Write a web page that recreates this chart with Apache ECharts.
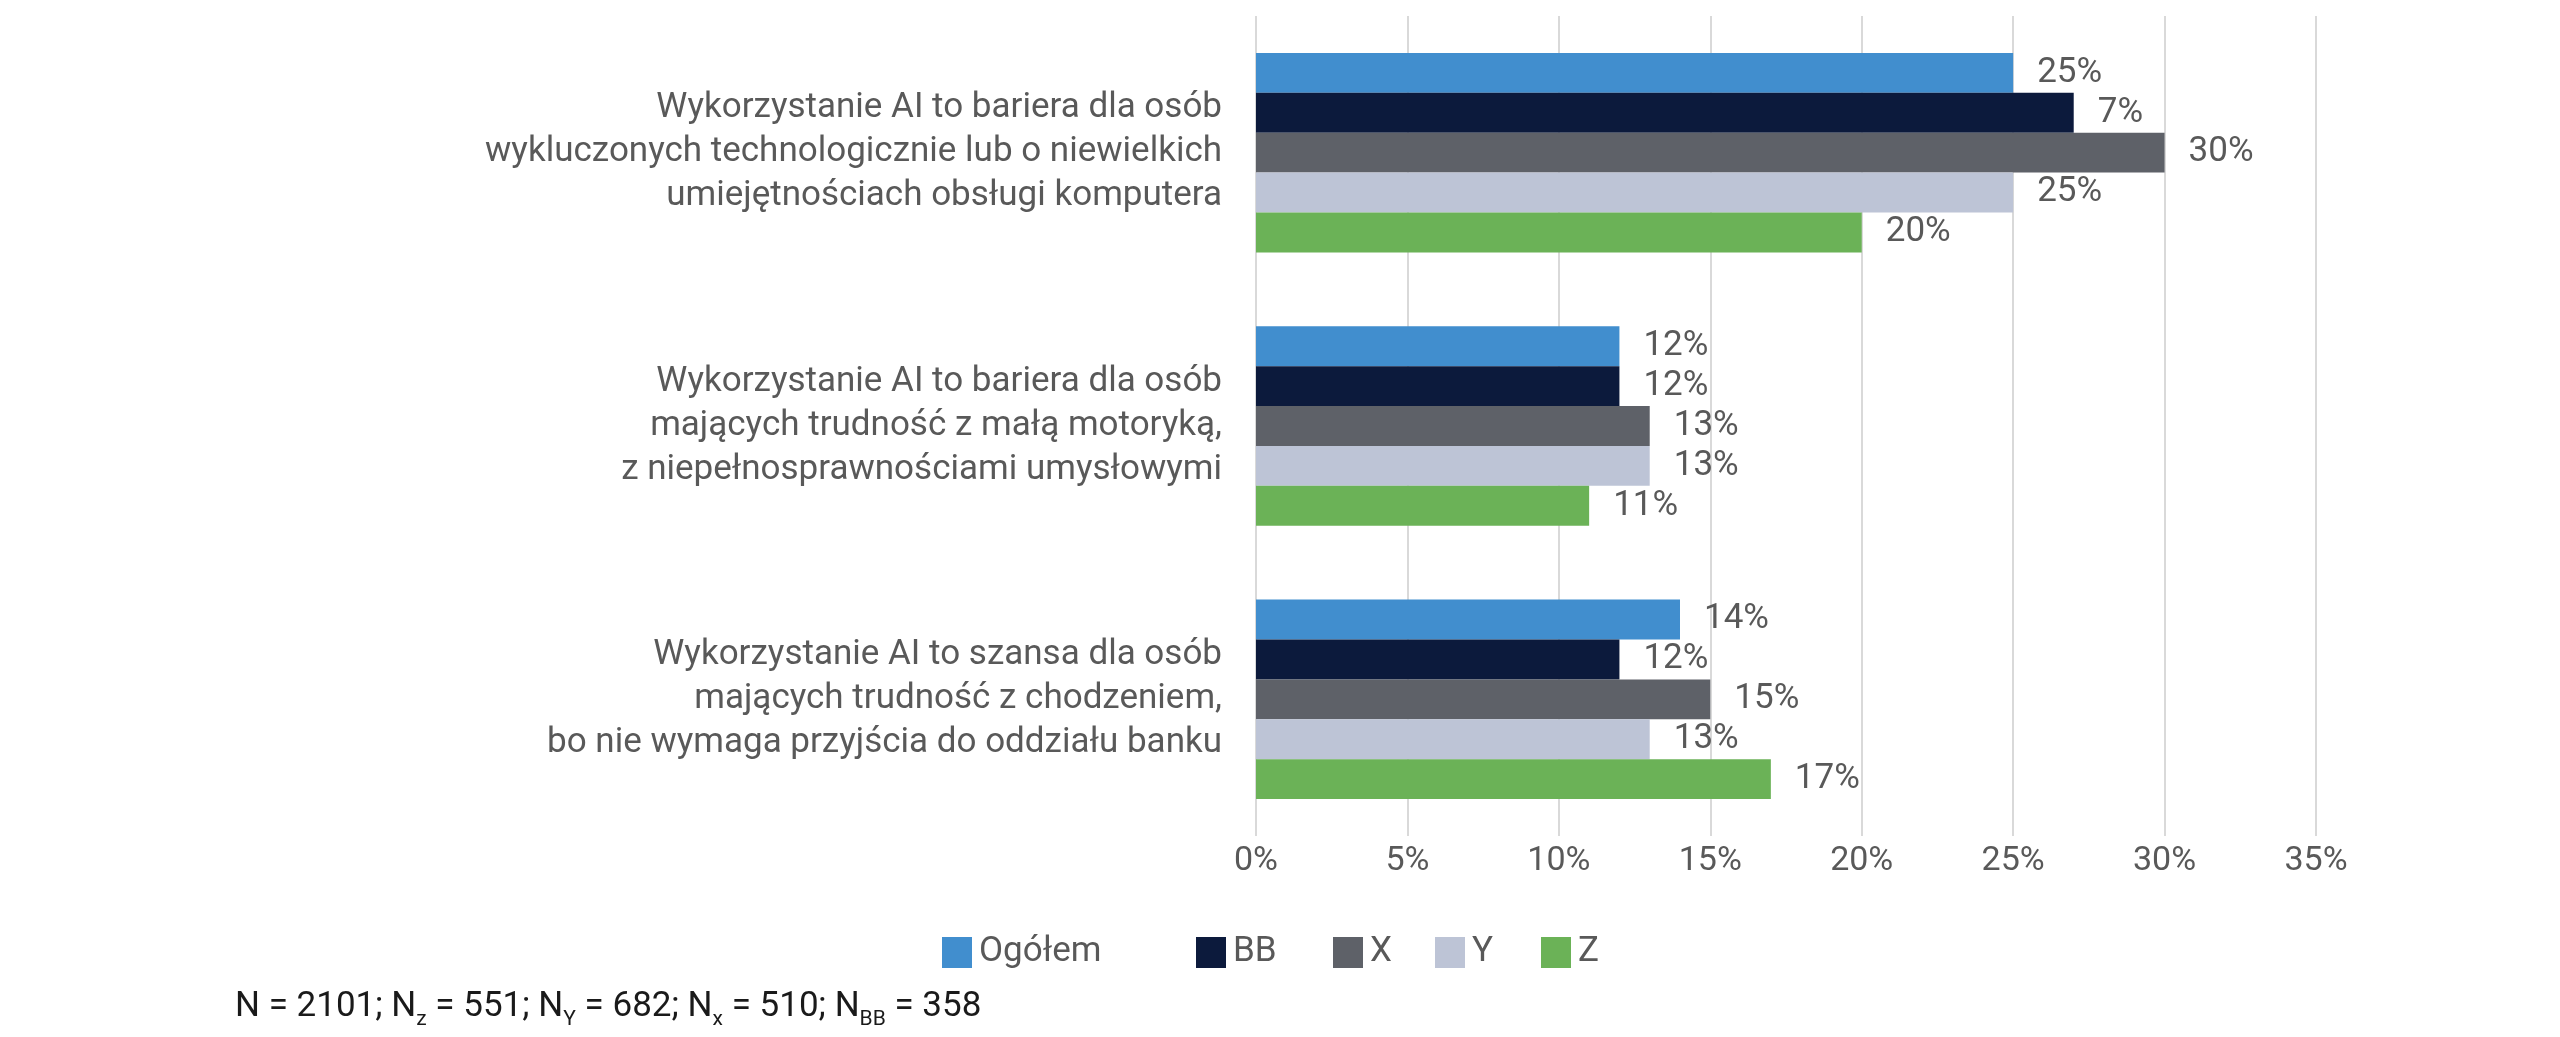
<!DOCTYPE html>
<html>
<head>
<meta charset="utf-8">
<script src="https://cdn.jsdelivr.net/npm/echarts@6/dist/echarts.min.js"></script>
<style>
html,body{margin:0;padding:0;background:#fff;}
#c{width:2560px;height:1037px;}
</style>
</head>
<body>
<div id="c"></div>
<script>
const categories = [
  'Wykorzystanie AI to bariera dla osób\nwykluczonych technologicznie lub o niewielkich\numiejętnościach obsługi komputera',
  'Wykorzystanie AI to bariera dla osób\nmających trudność z małą motoryką,\nz niepełnosprawnościami umysłowymi',
  'Wykorzystanie AI to szansa dla osób\nmających trudność z chodzeniem,\nbo nie wymaga przyjścia do oddziału banku'
];
const seriesNames = ['Ogółem', 'BB', 'X', 'Y', 'Z'];
const ogolem = [25, 12, 14];
const bb = [27, 12, 12];
const bbLabels = ['7%', '12%', '12%'];
const x = [30, 13, 15];
const y = [25, 13, 13];
const z = [20, 11, 17];
const xTicks = [0, 5, 10, 15, 20, 25, 30, 35];
const colors = ['#418ECE', '#0C1A3C', '#5E6168', '#BDC4D6', '#6BB257'];

const textColor = '#595959';
const font = 'Roboto';
const legendLefts = [937, 1191, 1328, 1430, 1536];

function mkSeries(name, data, color, labels) {
  return {
    name: name,
    type: 'bar',
    data: data,
    itemStyle: {color: color},
    barGap: '0%',
    barCategoryGap: '27%',
    label: {
      show: true,
      position: 'right',
      distance: 24,
      color: textColor,
      fontFamily: font,
      fontSize: 35,
      formatter: labels ? (p) => labels[p.dataIndex] : (p) => p.value + '%'
    }
  };
}

const chart = echarts.init(document.getElementById('c'));
chart.setOption({
  animation: false,
  backgroundColor: '#fff',
  grid: {left: 1256, right: 244, top: 16, bottom: 201, containLabel: false},
  xAxis: {
    type: 'value',
    min: 0,
    max: 35,
    interval: 5,
    axisLine: {show: false},
    axisTick: {show: false},
    splitLine: {lineStyle: {color: '#D9D9D9', width: 2}},
    axisLabel: {
      color: textColor, fontFamily: font, fontSize: 34, margin: 8,
      formatter: (v) => (xTicks.indexOf(v) >= 0 ? v + '%' : '')
    }
  },
  yAxis: {
    type: 'category',
    data: categories,
    inverse: true,
    axisLine: {show: false},
    axisTick: {show: false},
    axisLabel: {
      color: textColor, fontFamily: font, fontSize: 35, lineHeight: 44,
      margin: 34, align: 'right'
    }
  },
  legend: seriesNames.map((n, i) => ({
    data: [n],
    left: legendLefts[i], top: 930,
    itemWidth: 30, itemHeight: 31,
    icon: 'rect',
    textStyle: {color: textColor, fontFamily: font, fontSize: 35, padding: [0, 0, 0, 2]}
  })),
  graphic: [{
    type: 'text',
    left: 235,
    top: 990,
    style: {
      text: 'N = 2101; N{s|z} = 551; N{s|Y} = 682; N{s|x} = 510; N{s|BB} = 358',
      fill: '#1a1a1a',
      font: '35px Roboto',
      rich: {
        s: {fontSize: 21, fontFamily: font, fill: '#1a1a1a', padding: [24, 0, 0, 0], verticalAlign: 'top'}
      }
    }
  }],
  series: [
    mkSeries(seriesNames[0], ogolem, colors[0]),
    mkSeries(seriesNames[1], bb, colors[1], bbLabels),
    mkSeries(seriesNames[2], x, colors[2]),
    mkSeries(seriesNames[3], y, colors[3]),
    mkSeries(seriesNames[4], z, colors[4])
  ]
});
</script>
</body>
</html>
